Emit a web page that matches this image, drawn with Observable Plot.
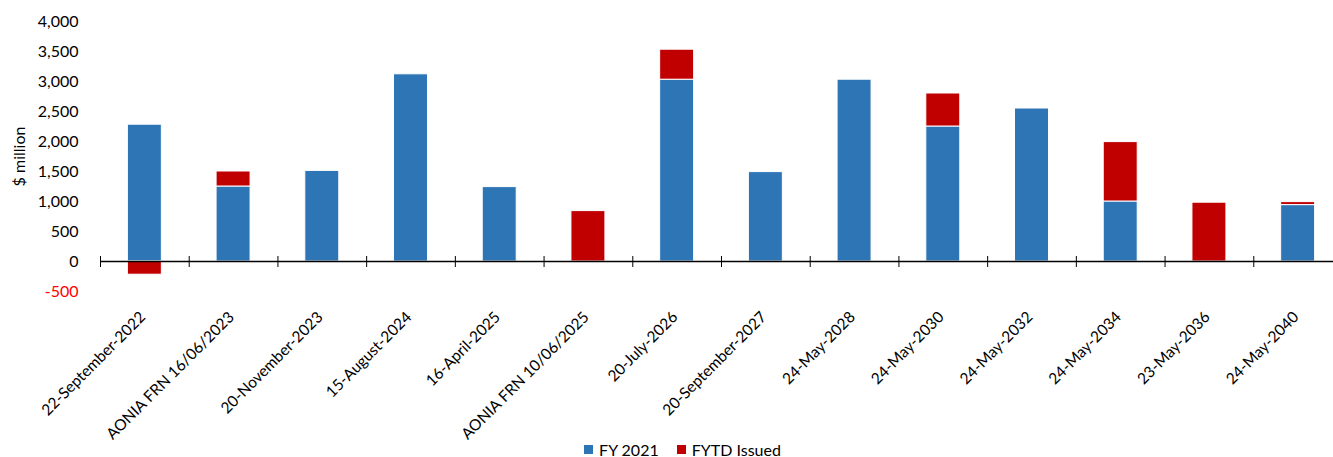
<!DOCTYPE html>
<html>
<head>
<meta charset="utf-8">
<script src="https://cdn.jsdelivr.net/npm/d3@7"></script>
<script src="https://cdn.jsdelivr.net/npm/@observablehq/plot@0.6"></script>
<style>
  html, body { margin: 0; padding: 0; background: #fff; overflow: hidden; width: 1333px; height: 457px; }
  #wrap { position: relative; width: 1333px; height: 457px; }
  #chart svg { display: block; }
  .legend { position: absolute; left: 0; top: 441px; width: 1333px; height: 17px; display: flex; justify-content: center; align-items: center; font: 16px Lato, sans-serif; color: #000; padding-left: 32px; box-sizing: border-box; }
  .legend span.sw { display: inline-block; width: 9px; height: 9px; margin-right: 6px; }
  .legend .item { display: flex; align-items: center; margin: 0 9px; }
</style>
</head>
<body>
<div id="wrap">
<div id="chart"></div>
<div class="legend" id="legend"></div>
</div>
<script>
const categories = [
  "22-September-2022", "AONIA FRN 16/06/2023", "20-November-2023", "15-August-2024",
  "16-April-2025", "AONIA FRN 10/06/2025", "20-July-2026", "20-September-2027",
  "24-May-2028", "24-May-2030", "24-May-2032", "24-May-2034", "23-May-2036", "24-May-2040"
];
const fy2021 = [2280, 1250, 1510, 3120, 1240, 0, 3030, 1490, 3030, 2250, 2550, 1000, 0, 940];
const fytdIssued = [-220, 250, 0, 0, 0, 840, 500, 0, 0, 550, 0, 990, 980, 50];
const seriesNames = ["FY 2021", "FYTD Issued"];
const seriesColors = ["#2E75B6", "#C00000"];
const yTicks = [0, 500, 1000, 1500, 2000, 2500, 3000, 3500, 4000];
const yNegTicks = [-500];

const rows = [];
categories.forEach((c, i) => {
  if (fy2021[i] !== 0) rows.push({category: c, series: seriesNames[0], value: fy2021[i]});
  if (fytdIssued[i] !== 0) rows.push({category: c, series: seriesNames[1], value: fytdIssued[i]});
});

const xRange = [100, 1342];
const step = (xRange[1] - xRange[0]) / categories.length;
const fmt = d => d3.format(",")(d).replace("\u2212", "-");

const chart = Plot.plot({
  width: 1333,
  height: 457,
  marginTop: 21,
  marginBottom: 166,
  marginLeft: 100,
  marginRight: 0,
  style: {fontFamily: "Lato, sans-serif", fontSize: "16px", color: "#000", background: "#fff", overflow: "visible"},
  x: {domain: categories, range: xRange, paddingInner: 0.617, paddingOuter: 0.3085, align: 0.5, round: false, label: null, axis: null},
  y: {domain: [-500, 4000], label: null},
  color: {domain: seriesNames, range: seriesColors},
  marks: [
    Plot.barY(rows, {x: "category", y: "value", fill: "series", stroke: "white", strokeWidth: 1}),
    Plot.ruleY([0], {stroke: "#000", strokeWidth: 1.5}),
    Plot.ruleX(categories, {x: d => d, y1: 0, y2: 0, insetTop: -5, insetBottom: -6, dx: -step / 2, stroke: "#000", strokeWidth: 1}),
    Plot.axisY({ticks: yTicks, tickSize: 0, tickPadding: 22, tickFormat: fmt, fill: "#000",
      label: "$ million", labelAnchor: "center", labelOffset: 87, labelArrow: "none"}),
    Plot.axisY({ticks: yNegTicks, tickSize: 0, tickPadding: 22, tickFormat: fmt, fill: "#FF0000", label: null}),
    Plot.text(categories, {x: d => d, text: d => d, frameAnchor: "bottom", rotate: -45, textAnchor: "end",
      lineAnchor: "middle", dx: -2, dy: 23, fontSize: 15.5, fill: "#000"})
  ]
});
document.getElementById("chart").appendChild(chart);

const legend = document.getElementById("legend");
seriesNames.forEach((name, i) => {
  const item = document.createElement("div");
  item.className = "item";
  const sw = document.createElement("span");
  sw.className = "sw";
  sw.style.background = seriesColors[i];
  item.appendChild(sw);
  item.appendChild(document.createTextNode(name));
  legend.appendChild(item);
});
</script>
</body>
</html>
